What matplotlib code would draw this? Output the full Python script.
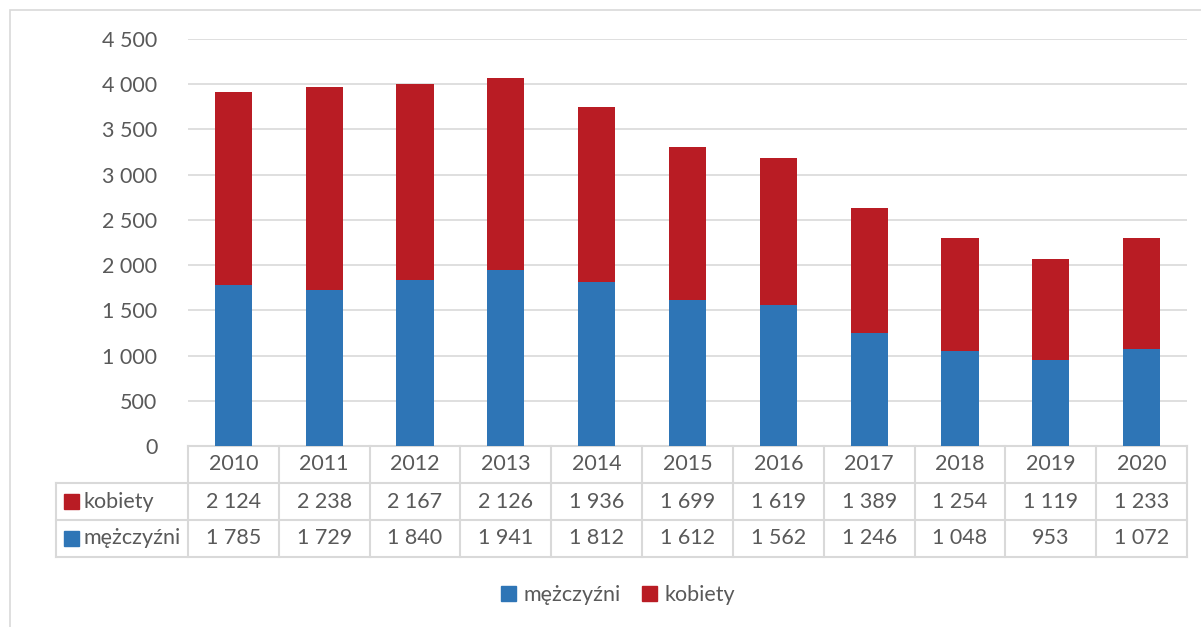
import matplotlib.pyplot as plt
from matplotlib.patches import Rectangle

# data
years = ['2010', '2011', '2012', '2013', '2014', '2015', '2016', '2017', '2018', '2019', '2020']
kobiety = [2124, 2238, 2167, 2126, 1936, 1699, 1619, 1389, 1254, 1119, 1233]
mezczyzni = [1785, 1729, 1840, 1941, 1812, 1612, 1562, 1246, 1048, 953, 1072]

blue = '#2E75B6'
red = '#B91C24'
grey = '#595959'
line_c = '#D9D9D9'

plt.rcParams['font.family'] = ['Lato', 'DejaVu Sans']

W, H = 1201, 627
fig = plt.figure(figsize=(W / 100, H / 100), dpi=100)

def fx(px):
    return px / W

def fy(py):
    return 1 - py / H

# chart border
fig.patches.append(Rectangle((fx(10), fy(640)), fx(1200), fy(10) - fy(640),
                             transform=fig.transFigure, fill=False,
                             edgecolor=line_c, linewidth=1.2))

def fmt(v):
    return '{:,}'.format(v).replace(',', ' ')

fs = 15.5

# main bars
x0, x1 = 188, 1187
ax = fig.add_axes([fx(x0), fy(446), fx(x1) - fx(x0), fy(39) - fy(446)])
xs = list(range(len(years)))
ax.bar(xs, mezczyzni, width=0.41, color=blue, zorder=3)
ax.bar(xs, kobiety, width=0.41, bottom=mezczyzni, color=red, zorder=3)
ax.set_xlim(-0.5, len(years) - 0.5)
ax.set_ylim(0, 4500)
ax.set_yticks(range(0, 4501, 500))
ax.set_yticklabels([fmt(v) for v in range(0, 4501, 500)])
ax.yaxis.grid(True, color=line_c, linewidth=1.2, zorder=0)
ax.set_xticks([])
for s in ['top', 'right', 'left']:
    ax.spines[s].set_visible(False)
ax.spines['bottom'].set_color(line_c)
ax.spines['bottom'].set_linewidth(1.5)
ax.tick_params(axis='y', length=0, pad=22, labelsize=fs, labelcolor=grey)

# data table
t_left = 56
cw = (x1 - x0) / len(years)
lab_w = (x0 - t_left) / cw
tx = fig.add_axes([fx(t_left), fy(557), fx(x1) - fx(t_left), fy(446) - fy(557)])
tx.set_xlim(-0.5 - lab_w, len(years) - 0.5)
tx.set_ylim(0, 3)
tx.axis('off')
lk = dict(color=line_c, linewidth=1.5, clip_on=False)
# horizontal lines
tx.plot([-0.5 - lab_w, len(years) - 0.5], [2, 2], **lk)
tx.plot([-0.5 - lab_w, len(years) - 0.5], [1, 1], **lk)
tx.plot([-0.5 - lab_w, len(years) - 0.5], [0, 0], **lk)
# vertical lines
tx.plot([-0.5 - lab_w, -0.5 - lab_w], [0, 2], **lk)
for i in range(len(years) + 1):
    tx.plot([i - 0.5, i - 0.5], [0, 3], **lk)

for i, y in enumerate(years):
    tx.text(i, 2.5, y, ha='center', va='center', fontsize=fs, color=grey)
    tx.text(i, 1.5, fmt(kobiety[i]), ha='center', va='center', fontsize=fs, color=grey)
    tx.text(i, 0.5, fmt(mezczyzni[i]), ha='center', va='center', fontsize=fs, color=grey)

sq = 15 / cw
sqh = 15 / 37
lx = -0.5 - lab_w + 8 / cw
tx.add_patch(Rectangle((lx, 1.5 - sqh / 2), sq, sqh, color=red, clip_on=False))
tx.add_patch(Rectangle((lx, 0.5 - sqh / 2), sq, sqh, color=blue, clip_on=False))
tx.text(lx + sq + 5 / cw, 1.5, 'kobiety', ha='left', va='center', fontsize=fs, color=grey)
tx.text(lx + sq + 5 / cw, 0.5, 'mężczyźni', ha='left', va='center', fontsize=fs, color=grey)

# legend
handles = [Rectangle((0, 0), 1, 1, color=blue), Rectangle((0, 0), 1, 1, color=red)]
fig.legend(handles, ['mężczyźni', 'kobiety'], loc='center', bbox_to_anchor=(fx(618), fy(595)),
           ncol=2, frameon=False, fontsize=fs, labelcolor=grey, handlelength=0.7,
           handleheight=0.7, handletextpad=0.35, columnspacing=1.0)

fig.savefig('out.png', dpi=100)
